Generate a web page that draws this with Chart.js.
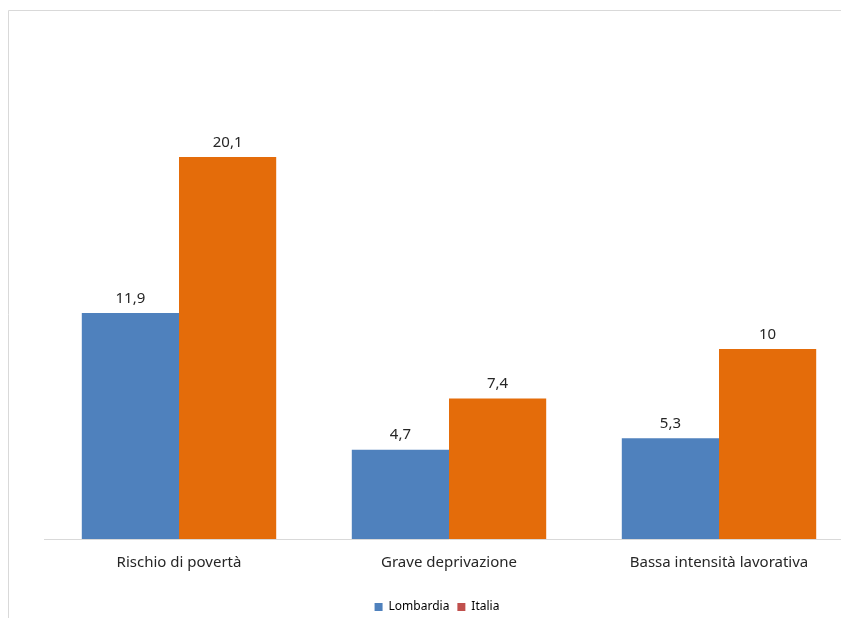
<!DOCTYPE html>
<html>
<head>
<meta charset="utf-8">
<script src="https://cdn.jsdelivr.net/npm/chart.js@4"></script>
<style>
  html, body { margin: 0; padding: 0; background: #ffffff; overflow: hidden; }
  #wrap { width: 841px; height: 618px; overflow: hidden; }
</style>
</head>
<body>
<div id="wrap"><canvas id="chart" width="858" height="618"></canvas></div>
<script>
// data
const categories = ["Rischio di povertà", "Grave deprivazione", "Bassa intensità lavorativa"];
const lombardia = [11.9, 4.7, 5.3];
const italia = [20.1, 7.4, 10];
const seriesNames = ["Lombardia", "Italia"];

const fontFamily = "'Noto Sans', 'Open Sans', sans-serif";

// frame lines on left and top like the original export
const framePlugin = {
  id: "frame",
  beforeDraw(chart) {
    const c = chart.ctx;
    c.save();
    c.strokeStyle = "#d9d9d9";
    c.lineWidth = 1;
    c.beginPath();
    c.moveTo(8.5, chart.height);
    c.lineTo(8.5, 10.5);
    c.lineTo(chart.width, 10.5);
    c.stroke();
    c.restore();
  },
  afterLayout(chart) {
    // legend sits a bit left of the plot centre and lower in the original
    const lg = chart.legend;
    if (lg) {
      lg.left -= 12; lg.right -= 12;
      lg.top += 5; lg.bottom += 5;
    }
  }
};

// value labels above bars
const valueLabels = {
  id: "valueLabels",
  afterDatasetsDraw(chart) {
    const c = chart.ctx;
    c.save();
    c.font = "15px " + fontFamily;
    c.fillStyle = "#262626";
    c.textAlign = "center";
    c.textBaseline = "bottom";
    chart.data.datasets.forEach((ds, i) => {
      const meta = chart.getDatasetMeta(i);
      meta.data.forEach((bar, j) => {
        const txt = String(ds.data[j]).replace(".", ",");
        c.fillText(txt, bar.x, bar.y - 7);
      });
    });
    c.restore();
  }
};

new Chart(document.getElementById("chart"), {
  type: "bar",
  data: {
    labels: categories,
    datasets: [
      { label: seriesNames[0], data: lombardia, backgroundColor: "#4f81bd", legendColor: "#4f81bd" },
      { label: seriesNames[1], data: italia, backgroundColor: "#e46c0a", legendColor: "#c0504d" }
    ]
  },
  options: {
    responsive: false,
    animation: false,
    layout: { padding: { left: 44, right: 4, top: 64, bottom: 0 } },
    datasets: { bar: { categoryPercentage: 0.72, barPercentage: 1 } },
    plugins: {
      legend: {
        position: "bottom",
        labels: {
          font: { family: fontFamily, size: 12 },
          color: "#404040",
          boxWidth: 8,
          boxHeight: 8,
          padding: 8,
          generateLabels(chart) {
            return chart.data.datasets.map((ds, i) => ({
              text: ds.label,
              fillStyle: ds.legendColor,
              strokeStyle: ds.legendColor,
              lineWidth: 0,
              datasetIndex: i
            }));
          }
        }
      },
      tooltip: { enabled: false }
    },
    scales: {
      x: {
        grid: { display: false, drawTicks: false },
        border: { display: true, color: "#d9d9d9", width: 1 },
        ticks: {
          font: { family: fontFamily, size: 15 },
          color: "#262626",
          padding: 15
        },
        afterFit(scale) { scale.height = 49; }
      },
      y: {
        display: false,
        min: 0,
        max: 25
      }
    }
  },
  plugins: [framePlugin, valueLabels]
});
</script>
</body>
</html>
